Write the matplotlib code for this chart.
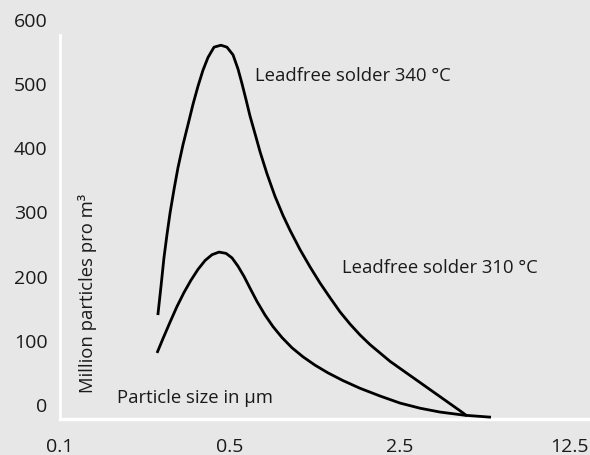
import matplotlib
matplotlib.use('Agg')
import matplotlib.pyplot as plt
from matplotlib.ticker import FixedLocator, NullLocator

# particle size (µm) and concentration (million particles per m³)
size_340 = [0.253, 0.261, 0.268, 0.276, 0.284, 0.295, 0.306, 0.321, 0.337, 0.353,
            0.370, 0.388, 0.407, 0.431, 0.460, 0.487, 0.516, 0.541, 0.562, 0.584,
            0.606, 0.636, 0.667, 0.712, 0.768, 0.829, 0.886, 0.974, 1.071, 1.177,
            1.295, 1.423, 1.565, 1.721, 1.892, 2.080, 2.287, 2.514, 2.764, 3.040,
            3.342, 3.675, 4.040, 4.442, 4.747]
count_340 = [140, 187, 229, 266, 299, 336, 369, 405, 437, 468,
             496, 521, 541, 557, 560, 557, 545, 523, 500, 475,
             450, 422, 394, 360, 325, 295, 272, 242, 215, 190,
             167, 145, 126, 109, 94, 81, 68, 57, 46, 35,
             24, 13, 2, -9, -17]

size_310 = [0.251, 0.266, 0.284, 0.303, 0.324, 0.346, 0.370, 0.396, 0.423, 0.452,
            0.483, 0.511, 0.541, 0.573, 0.606, 0.648, 0.699, 0.754, 0.821, 0.903,
            1.002, 1.123, 1.270, 1.464, 1.721, 2.080, 2.514, 3.040, 3.675, 4.658,
            5.958]
count_310 = [81, 104, 129, 153, 175, 194, 211, 225, 234, 238,
             236, 229, 216, 200, 182, 161, 140, 122, 105, 89,
             75, 62, 50, 38, 26, 14, 3, -5, -11, -16,
             -19]

x_ticks = [0.1, 0.5, 2.5, 12.5]
x_tick_labels = ['0.1', '0.5', '2.5', '12.5']
y_ticks = [0, 100, 200, 300, 400, 500, 600]

bg = '#e6e7e6'
ink = '#1a1a1a'
plt.rcParams['font.family'] = ['Open Sans', 'DejaVu Sans']

fig = plt.figure(figsize=(5.9, 4.55), dpi=100, facecolor=bg)
W, H = 590, 455
ax = fig.add_axes([60 / W, (H - 419) / H, 530 / W, 407 / H])
ax.set_facecolor(bg)
ax.set_xscale('log')
ax.set_xlim(0.1, 15.24)
ax.set_ylim(-21.8, 611.7)
for s in ax.spines.values():
    s.set_visible(False)

# white axis lines
ax.plot([0.1, 0.1], [-21.8, 576], color='white', lw=2, clip_on=False, zorder=1)
ax.plot([0.1, 15.24], [-21.8, -21.8], color='white', lw=2.5, clip_on=False, zorder=1)

ax.plot(size_340, count_340, color='black', lw=2, solid_joinstyle='round',
        solid_capstyle='butt', zorder=3)
ax.plot(size_310, count_310, color='black', lw=2, solid_joinstyle='round',
        solid_capstyle='butt', zorder=3)

ax.xaxis.set_major_locator(FixedLocator(x_ticks))
ax.xaxis.set_minor_locator(NullLocator())
ax.set_xticklabels(x_tick_labels)
ax.set_yticks(y_ticks)
ax.tick_params(axis='both', length=0, labelsize=14, labelcolor=ink)
ax.tick_params(axis='x', pad=14)
ax.tick_params(axis='y', pad=9)

fs = 13.3
ax.text(0.636, 512, 'Leadfree solder 340 °C', fontsize=fs, color=ink, va='center')
ax.text(1.45, 213, 'Leadfree solder 310 °C', fontsize=fs, color=ink, va='center')
ax.text(0.172, 11, 'Particle size in µm', fontsize=fs, color=ink, va='center')
ax.text(0.1295, 18, 'Million particles pro m³', fontsize=fs, color=ink,
        rotation=90, ha='center', va='bottom')

fig.savefig('out.png', dpi=100, facecolor=bg)
